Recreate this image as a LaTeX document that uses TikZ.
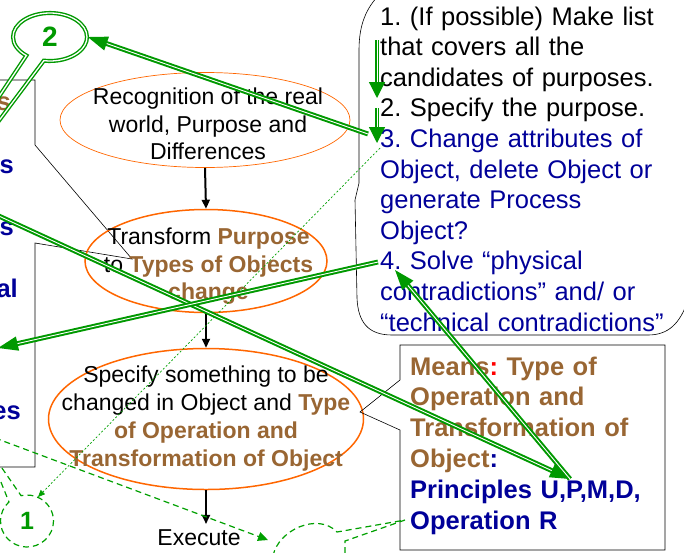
\documentclass[tikz,border=0pt]{standalone}
\usepackage{fontspec}
\setmainfont{Liberation Sans}
\usetikzlibrary{arrows.meta,shapes.geometric,shapes.callouts}
\definecolor{ovalorange}{HTML}{FF6600}
\definecolor{keybrown}{HTML}{996633}
\definecolor{itemblue}{HTML}{000099}
\definecolor{linkgreen}{HTML}{009900}
\definecolor{hintgreen}{HTML}{00A000}
\newcommand\kw[1]{\textcolor{keybrown}{\bfseries #1}}
\frenchspacing
\tikzset{
  bigtip/.tip={Triangle[length=20pt,width=14pt]},
  smalltip/.tip={Triangle[length=16pt,width=16pt]},
}
\begin{document}
\begin{tikzpicture}[x=1pt,y=-1pt,
  oval/.style={ellipse, draw=ovalorange, inner sep=0pt},
  ovaltext/.style={anchor=north, inner sep=0pt, align=center, font=\fontsize{23}{27.5}\selectfont},
  flow/.style={line width=2pt, -{Triangle[length=9pt,width=8pt]}},
  frame/.style={line width=0.6pt},
  link/.style={draw=linkgreen, line width=2pt, double=white, double distance=0.9pt},
  fragment/.style={anchor=base east, inner sep=0pt, font=\bfseries\fontsize{25.5}{25.5}\selectfont, text=itemblue},
  dashlink/.style={draw=hintgreen, line width=1.2pt, dash pattern=on 6pt off 4pt},
]
\useasboundingbox (0,0) rectangle (684,552);
\clip (0,0) rectangle (684,552);

% list box on the left edge
\node[fragment, text=keybrown] (fa) at (11,110) {s};
\node[fragment] (fb) at (14,173) {s};
\node[fragment] (fc) at (14,235) {s};
\node[fragment] (fd) at (18,297) {al};
\node[fragment] (fe) at (21,419) {es};
\draw[frame] (-5,80) -- (35,80) -- (35,145) -- (132,259) -- (35,243) -- (35,467) -- (-5,467);

% the three process ovals
\node[oval, line width=0.7pt, minimum width=290pt, minimum height=95pt] (recog) at (205,120) {};
\node[ovaltext] (recogtxt) at (208,88) {Recognition of the real\\world, Purpose and\\Differences};
\node[oval, line width=1.5pt, minimum width=242pt, minimum height=103pt] (trans) at (206,261) {};
\node[ovaltext] (transtxt) at (208.5,228) {Transform \kw{Purpose}\\to \kw{Types of Objects}\\\kw{change}};
\node[oval, line width=1.5pt, minimum width=315pt, minimum height=141pt] (spec) at (206,419) {};
\node[ovaltext, font=\fontsize{23}{28}\selectfont] (spectxt) at (206,366) {Specify something to be\\changed in Object and \kw{Type}\\\kw{of Operation and}\\\kw{Transformation of Object}};
\node[anchor=base, inner sep=0pt, font=\fontsize{23}{27.5}\selectfont] (exec) at (199,545) {Execute};

\draw[flow] (recog.south) -- (trans.north);
\draw[flow] (trans.south) -- (spec.north);
\draw[flow, shorten >=5pt] (spec.south) -- (spec.south |- exec.north);

% procedure box on the right
\draw[frame] (380,-6) .. controls (366,8) and (359,25) .. (359,50) -- (359,183) -- (355,200) -- (357,298)
  .. controls (358,322) and (368,335) .. (392,335) -- (648,335) .. controls (668,335) and (680,324) .. (688,300);
\node[anchor=north west, inner sep=0pt, text width=320pt, align=left, font=\fontsize{25.5}{30.6}\selectfont] (steps) at (380,6.5)
  {1. (If possible) Make list\\that covers all the\\candidates of purposes.\\2. Specify the purpose.\\\color{itemblue}3. Change attributes of\\Object, delete Object or\\generate Process\\Object?\\4. Solve “physical\\contradictions” and/ or\\“technical contradictions”};

% means box
\draw[frame] (400,345) -- (665,345) -- (665,550) -- (400,550) -- (400,430) -- (360,412) -- (400,380) -- cycle;
\node[anchor=north west, inner sep=0pt, text width=250pt, align=left, font=\bfseries\fontsize{25.5}{30.8}\selectfont, text=keybrown] (means) at (410,356.5)
  {Means\textcolor{red}{:} Type of\\Operation and\\Transformation of\\Object\textcolor{itemblue}{:}\\\color{itemblue}Principles U,P,M,D,\\Operation R};

% numbered balloons
\node[ellipse callout, draw=linkgreen, line width=1.4pt, double=white, double distance=1.3pt,
  minimum width=74pt, minimum height=48pt, inner sep=0pt,
  callout absolute pointer={(-150,320)}, callout pointer arc=30,
  text=linkgreen, font=\bfseries\fontsize{28}{28}\selectfont] (b2) at (50,37) {2};
\node[ellipse callout, dashlink, minimum width=53pt, minimum height=52pt, inner sep=0pt,
  callout absolute pointer={(-14,445)}, callout pointer arc=30,
  text=linkgreen, font=\bfseries\fontsize{25}{25}\selectfont] (b1) at (27,521) {1};

% bottom balloon pointing at "Operation R"
\coordinate (optip) at (405,520);
\draw[dashlink] (273,556) .. controls (278,530) and (318,512) .. (337,532) -- (optip) -- (345,541) -- (345,556);

% green links
\coordinate (s3) at (368,134);
\coordinate (s1top) at (377,40);
\coordinate (s1end) at (377,98);
\coordinate (s2top) at (377,108);
\coordinate (s2end) at (377,143);
\coordinate (s4) at (395,270);
\coordinate (s4out) at (378,262);
\coordinate (leftin) at (-12,211);
\coordinate (meanstip) at (570,479);
\coordinate (leftout) at (-2,348);
\coordinate (dotfrom) at (380,148);
\coordinate (dotto) at (38,497);
\coordinate (dashfrom) at (-5,438);
\coordinate (cloudin) at (268,540);

\draw[hintgreen, line width=0.7pt, dash pattern=on 2pt off 2pt, -{Triangle[length=7pt,width=6pt]}] (dotfrom) -- (dotto);
\draw[dashlink, -{Triangle[length=10pt,width=9pt]}] (dashfrom) -- (cloudin);

\draw[link, -bigtip] (s3) -- (b2.east);
\draw[link, line width=1.2pt, -smalltip] (s1top) -- (s1end);
\draw[link, line width=1.2pt, -smalltip] (s2top) -- (s2end);
\draw[link, -bigtip] (leftin) -- (meanstip);
\draw[link, -bigtip] (meanstip) -- (s4);
\draw[link, -bigtip] (s4out) -- (leftout);
\end{tikzpicture}
\end{document}
